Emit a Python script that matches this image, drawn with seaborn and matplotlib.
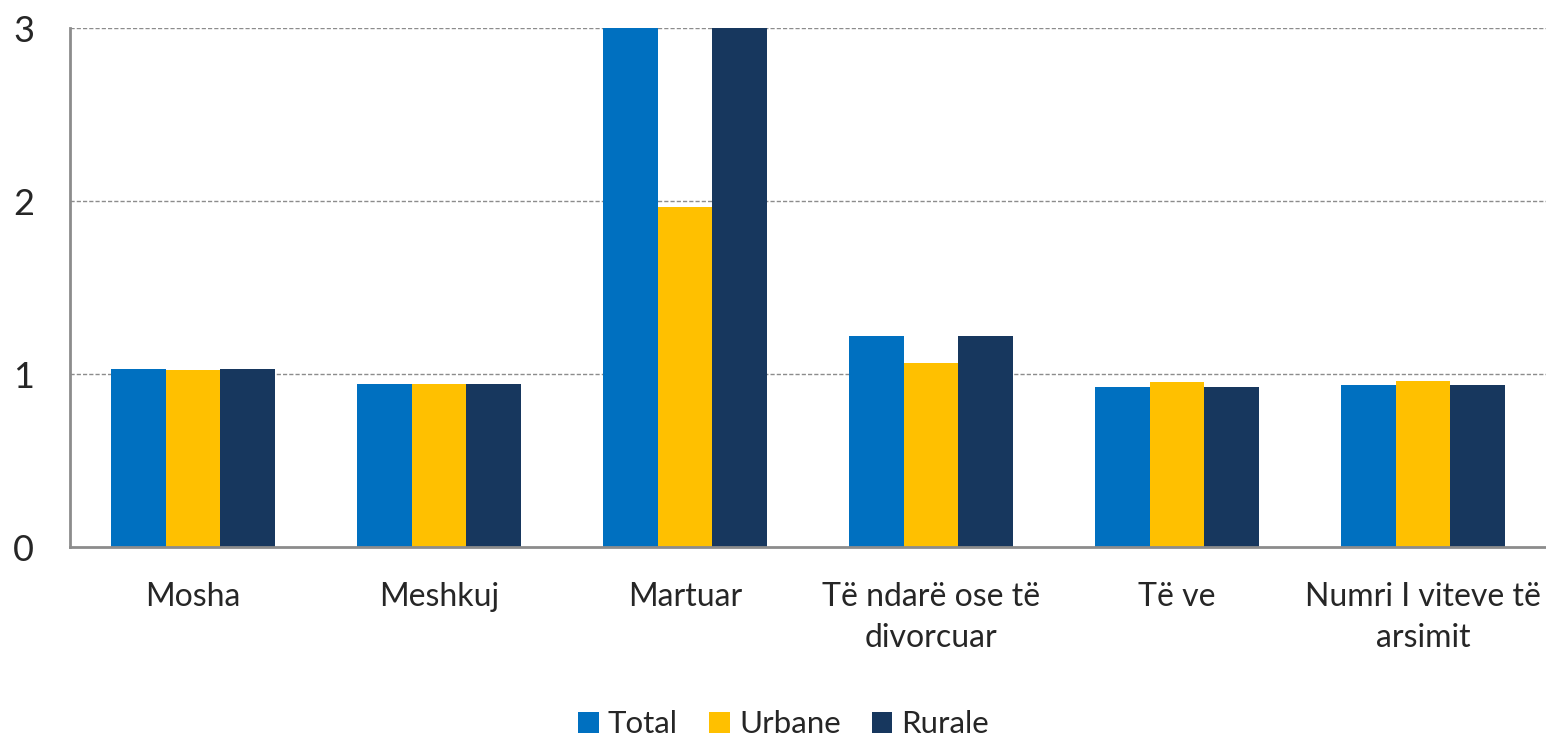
###########################################################################################
# imports
import matplotlib
matplotlib.use('Agg')
import numpy as np
import pandas as pd
import seaborn as sns
import matplotlib.pyplot as plt

###########################################################################################
# data

categories = ['Mosha', 'Meshkuj', 'Martuar', 'Të ndarë ose të\ndivorcuar',
              'Të ve', 'Numri I viteve të\narsimit']
total_values = [1.03, 0.94, 3.5, 1.22, 0.925, 0.935]
urbane_values = [1.023, 0.94, 1.964, 1.062, 0.955, 0.962]
rurale_values = [1.03, 0.94, 3.5, 1.22, 0.925, 0.935]
series_names = ['Total', 'Urbane', 'Rurale']
y_ticks = [0, 1, 2, 3]


###########################################################################################
# plotting

def plot_bars() -> None:
    # building long dataframe for seaborn
    rows = []
    for name, values in zip(series_names, [total_values, urbane_values, rurale_values]):
        for cat, val in zip(categories, values):
            rows.append({'cat': cat, 'serie': name, 'value': val})
    df = pd.DataFrame(rows)

    sns.set_style('white')
    plt.rcParams['font.family'] = ['Lato', 'DejaVu Sans']

    fig = plt.figure(figsize=(15.46, 7.39), dpi=100)
    ax = fig.add_axes([0.0453, 0.2598, 0.9547, 0.7023])

    palette = {'Total': '#0070C0', 'Urbane': '#FFC000', 'Rurale': '#17375E'}
    sns.barplot(data=df, x='cat', y='value', hue='serie', order=categories,
                hue_order=series_names, palette=palette, width=0.667, gap=0,
                saturation=1, linewidth=0, ax=ax, legend=True)

    # axes limits and grid
    ax.set_ylim(0, 3)
    ax.set_xlim(-0.5, len(categories) - 0.5)
    ax.set_yticks(y_ticks)
    ax.set_yticklabels([str(t) for t in y_ticks], fontsize=26)
    for t in y_ticks[1:]:
        ax.axhline(t, color='#8c8c8c', linestyle=(0, (3, 1.5)), linewidth=1.0, zorder=0)

    # ticks at category boundaries, labels at centres
    ax.set_xticks(np.arange(-0.5, len(categories)), minor=False)
    ax.set_xticklabels([''] * (len(categories) + 1))
    ax.set_xticks(np.arange(len(categories)), minor=True)
    ax.set_xticklabels(categories, minor=True, fontsize=23, linespacing=1.45)
    ax.tick_params(axis='x', which='major', length=10, width=1.5, color='#8c8c8c', direction='out')
    ax.tick_params(axis='x', which='minor', length=0, pad=25)
    ax.tick_params(axis='y', length=12, width=1.5, color='#8c8c8c', direction='out', pad=14)
    for lab in ax.get_xticklabels(minor=True):
        lab.set_verticalalignment('top')

    ax.set_xlabel('')
    ax.set_ylabel('')
    sns.despine(ax=ax, top=True, right=True)
    for side in ['left', 'bottom']:
        ax.spines[side].set_color('#8c8c8c')
        ax.spines[side].set_linewidth(2)

    # legend at the bottom
    handles, labels = ax.get_legend_handles_labels()
    ax.get_legend().remove()
    fig.legend(handles, labels, loc='lower center', bbox_to_anchor=(0.507, -0.037),
               ncol=3, frameon=False, fontsize=22.5, handlelength=0.65, handleheight=0.65,
               handletextpad=0.3, columnspacing=1.0)

    fig.savefig('out.png', dpi=100)
    plt.close(fig)


######################################################################
# defining main function

def main():
    """Runs main code."""
    plot_bars()


if __name__ == '__main__':
    main()
